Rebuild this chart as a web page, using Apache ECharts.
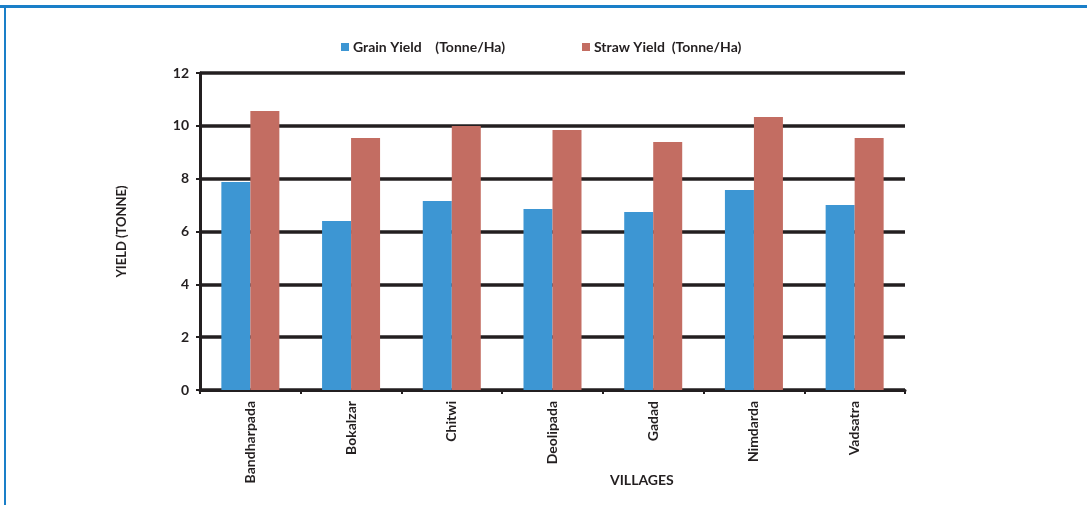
<!DOCTYPE html>
<html><head><meta charset="utf-8">
<script src="https://cdn.jsdelivr.net/npm/echarts@6/dist/echarts.min.js"></script>
<style>html,body{margin:0;padding:0;background:#fff}#c{width:1087px;height:505px}</style>
</head><body><div id="c"></div>
<script>
var villages = ['Bandharpada','Bokalzar','Chitwi','Deolipada','Gadad','Nimdarda','Vadsatra'];
var grainYield = [7.87, 6.40, 7.15, 6.85, 6.74, 7.57, 7.00];
var strawYield = [10.56, 9.54, 9.99, 9.84, 9.39, 10.33, 9.54];
var seriesNames = ['Grain Yield    (Tonne/Ha)', 'Straw Yield  (Tonne/Ha)'];
var yTicks = [0, 2, 4, 6, 8, 10, 12];

var dark = '#231f20';
var chart = echarts.init(document.getElementById('c'), null, {renderer:'canvas'});
chart.setOption({
  animation: false,
  backgroundColor: '#fff',
  legend: {
    left: 336, top: 35, itemWidth: 8, itemHeight: 8, itemGap: 77,
    icon: 'rect',
    textStyle: {fontFamily: 'Lato', fontWeight: 'bold', fontSize: 14, color: dark, padding:[0,0,0,-1]},
    data: seriesNames
  },
  grid: {left: 200, right: 182, top: 73, bottom: 115, containLabel: false},
  xAxis: {
    type: 'category', data: villages,
    axisLine: {lineStyle: {color: dark, width: 3}},
    axisTick: {show: true, length: 4, lineStyle: {color: dark, width: 2}},
    axisLabel: {rotate: 90, margin: 11, fontFamily: 'Lato', fontWeight: 'bold', fontSize: 14, color: dark}
  },
  yAxis: {
    type: 'value', min: 0, max: 12, interval: 2,
    name: 'YIELD (TONNE)', nameLocation: 'middle', nameGap: 72,
    nameTextStyle: {fontFamily: 'Lato', fontWeight: 'bold', fontSize: 13, color: dark},
    axisLine: {show: true, lineStyle: {color: dark, width: 3}},
    axisTick: {show: true, length: 4, lineStyle: {color: dark, width: 2}},
    axisLabel: {margin: 11, fontFamily: 'Lato', fontWeight: 'bold', fontSize: 14, color: dark,
      formatter: function(v){ return yTicks.indexOf(v) >= 0 ? String(v) : ''; }},
    splitLine: {show: true, lineStyle: {color: dark, width: 3.5}}
  },
  series: [
    {name: seriesNames[0], type: 'bar', data: grainYield, barWidth: 29, barGap: '0%', itemStyle: {color: '#3d96d3'}},
    {name: seriesNames[1], type: 'bar', data: strawYield, barWidth: 29, barGap: '0%', itemStyle: {color: '#c36d62'}}
  ],
  graphic: [
    {type: 'rect', left: 0, top: 5, shape: {width: 1087, height: 3}, style: {fill: '#1a7fc8'}},
    {type: 'rect', left: 4, top: 5, shape: {width: 2, height: 500}, style: {fill: '#1a7fc8'}},
    {type: 'text', left: 610, top: 473, style: {text: 'VILLAGES', font: 'bold 14px Lato', fill: dark}}
  ]
});
</script></body></html>
